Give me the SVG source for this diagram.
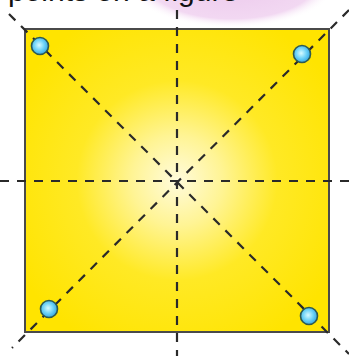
<svg xmlns="http://www.w3.org/2000/svg" width="349" height="356" viewBox="0 0 349 356">
  <defs>
    <radialGradient id="sq" cx="0.5" cy="0.5" r="0.6">
      <stop offset="0" stop-color="#fffbdc"/>
      <stop offset="0.25" stop-color="#fff494"/>
      <stop offset="0.55" stop-color="#ffe925"/>
      <stop offset="1" stop-color="#ffe400"/>
    </radialGradient>
    <radialGradient id="dot" cx="0.45" cy="0.45" r="0.6">
      <stop offset="0" stop-color="#d8fbff"/>
      <stop offset="0.5" stop-color="#70d4f8"/>
      <stop offset="1" stop-color="#2c9fe0"/>
    </radialGradient>
    <radialGradient id="pink" cx="0.5" cy="0.5" r="0.5">
      <stop offset="0" stop-color="#ecc8ec"/>
      <stop offset="0.8" stop-color="#f2d8f2"/>
      <stop offset="1" stop-color="#ffffff" stop-opacity="0"/>
    </radialGradient>
  </defs>
  <style>
    .dash { stroke: #2a2a2a; stroke-width: 2.2; stroke-dasharray: 9 8; fill: none; }
    .pt { fill: url(#dot); stroke: #2d5a52; stroke-width: 1.6; }
  </style>
  <rect width="349" height="356" fill="#ffffff"/>
  <ellipse cx="232" cy="-18" rx="105" ry="46" fill="url(#pink)"/>
  <text x="8" y="1" font-family="Liberation Sans, Arial, sans-serif" font-size="30" fill="#111">points on a figure</text>
  <g id="square">
    <rect x="25" y="29" width="304" height="303" fill="url(#sq)" stroke="#4a4a4a" stroke-width="2"/>
  </g>
  <g id="connectors">
    <line class="dash" x1="177" y1="10" x2="177" y2="356"/>
    <line class="dash" x1="0" y1="181" x2="349" y2="181"/>
    <line class="dash" x1="9" y1="14" x2="349" y2="354"/>
    <line class="dash" x1="349" y1="10" x2="12" y2="348"/>
  </g>
  <g id="p1"><circle class="pt" cx="40" cy="46" r="8.5"/></g>
  <g id="p2"><circle class="pt" cx="302" cy="54" r="8.5"/></g>
  <g id="p3"><circle class="pt" cx="49" cy="309" r="8.5"/></g>
  <g id="p4"><circle class="pt" cx="309" cy="316" r="8.5"/></g>
</svg>
